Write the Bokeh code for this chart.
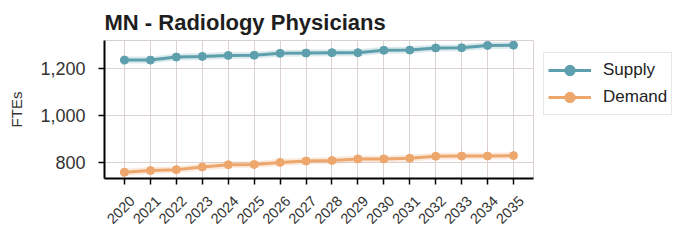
import math
from bokeh.plotting import figure
from bokeh.models import (Range1d, NumeralTickFormatter, FixedTicker, Legend, LegendItem,
                          LinearAxis)
from bokeh.embed import file_html
from bokeh.resources import INLINE

years = list(range(2020, 2036))
supply = [1237, 1237, 1250, 1253, 1257, 1258, 1266, 1267, 1269, 1269, 1279, 1280, 1289, 1290, 1300, 1301]
demand = [757, 764, 768, 779, 789, 790, 799, 805, 807, 814, 814, 817, 825, 826, 826, 828]
y_ticks = [800, 1000, 1200]
title_text = "MN - Radiology Physicians"
y_label = "FTEs"

SUP = "#5d9fac"
DEM = "#eda66c"
FONT = "Liberation Sans"

X0, X1 = 2019.23, 2035.77
p = figure(frame_width=429, frame_height=138, output_backend="svg", toolbar_location=None,
           x_range=Range1d(X0, X1), y_range=Range1d(730, 1321),
           min_border_left=104, min_border_right=137, min_border_top=40, min_border_bottom=10)

p.title.text = title_text
p.title.text_font = FONT
p.title.text_font_size = "22px"
p.title.text_font_style = "bold"
p.title.text_color = "#1e1e1e"
p.title.offset = 0
p.title.standoff = 12

for data, col in ((supply, SUP), (demand, DEM)):
    p.line(years, data, line_color=col, line_width=7, line_alpha=0.22)

r1 = p.line(years, supply, line_color=SUP, line_width=3)
c1 = p.scatter(years, supply, size=8, fill_color=SUP, line_color=SUP)
r2 = p.line(years, demand, line_color=DEM, line_width=3)
c2 = p.scatter(years, demand, size=8, fill_color=DEM, line_color=DEM)

p.xaxis.ticker = FixedTicker(ticks=years)
p.xaxis.major_label_overrides = {y: "" for y in years}
p.xaxis.major_label_text_font_size = "1px"
p.yaxis.ticker = FixedTicker(ticks=y_ticks)
p.yaxis.formatter = NumeralTickFormatter(format="0,0")

for ax in (p.xaxis, p.yaxis):
    ax.axis_line_color = "black"
    ax.axis_line_width = 2
    ax.major_tick_line_color = "black"
    ax.major_tick_line_width = 1.5
    ax.major_tick_out = 6
    ax.major_tick_in = 0
    ax.minor_tick_line_color = None
    ax.major_label_text_font = FONT
    ax.major_label_text_color = "#333333"

# tick labels: centred under each tick (shifted range on a label-only axis)
shift = 0.3
p.extra_x_ranges = {"lab": Range1d(X0 - shift, X1 - shift)}
lab_axis = LinearAxis(x_range_name="lab", ticker=FixedTicker(ticks=years))
lab_axis.axis_line_color = None
lab_axis.major_tick_line_color = None
lab_axis.minor_tick_line_color = None
lab_axis.major_label_orientation = math.pi / 4
lab_axis.major_label_standoff = 8
lab_axis.major_label_text_font = FONT
lab_axis.major_label_text_font_size = "14.5px"
lab_axis.major_label_text_color = "#333333"
p.add_layout(lab_axis, "below")

p.yaxis.major_label_text_font_size = "18px"
p.yaxis.major_label_standoff = 13
p.yaxis.axis_label = y_label
p.yaxis.axis_label_text_font = FONT
p.yaxis.axis_label_text_font_size = "15px"
p.yaxis.axis_label_text_font_style = "normal"
p.yaxis.axis_label_text_color = "#333333"
p.yaxis.axis_label_standoff = 12

p.xgrid.grid_line_color = "#dcd2d2"
p.ygrid.grid_line_color = "#dcd2d2"
p.outline_line_color = "#d8d0d0"
p.outline_line_width = 1

legend = Legend(items=[LegendItem(label="Supply", renderers=[r1, c1]),
                       LegendItem(label="Demand", renderers=[r2, c2])],
                location=(10, 63))
legend.label_text_font = FONT
legend.label_text_font_size = "17px"
legend.label_text_color = "#222222"
legend.glyph_width = 43
legend.glyph_height = 26
legend.label_height = 26
legend.label_standoff = 12
legend.spacing = 1
legend.padding = 4
legend.margin = 0
legend.border_line_color = "#d0d0d0"
legend.border_line_width = 1
legend.background_fill_color = "white"
p.add_layout(legend, "right")

open("out.html", "w").write(file_html(p, INLINE))
